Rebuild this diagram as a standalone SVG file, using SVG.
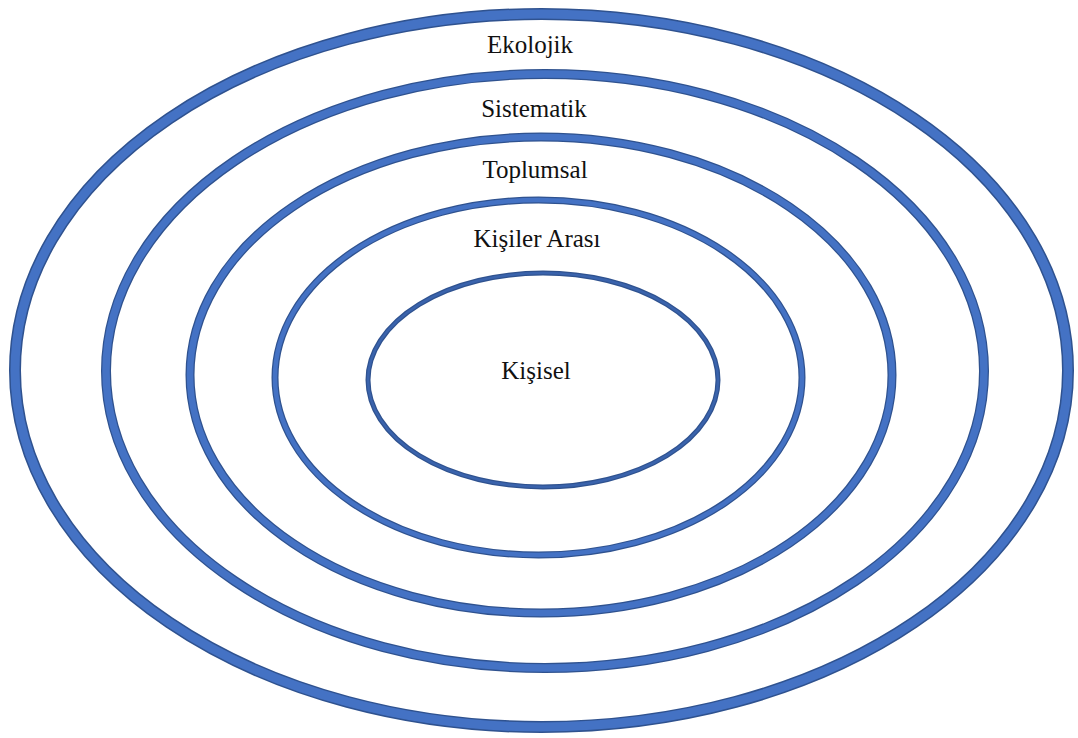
<svg xmlns="http://www.w3.org/2000/svg" width="1078" height="738" viewBox="0 0 1078 738">
<style>
.edge{fill:none;stroke:#2F528F}
.band{fill:none;stroke:#4472C4}
.lbl{font-family:"Liberation Serif","Times New Roman",serif;font-size:25px;fill:#111;text-anchor:middle}
</style>
<rect width="1078" height="738" fill="#fff"/>
<g id="ekolojik">
<ellipse class="edge" cx="541.5" cy="370.5" rx="526.5" ry="356.5" stroke-width="12"/>
<ellipse class="band" cx="541.5" cy="370.5" rx="526.5" ry="356.5" stroke-width="9"/>
<text class="lbl" x="530" y="53">Ekolojik</text>
</g>
<g id="sistematik">
<ellipse class="edge" cx="545" cy="371" rx="439" ry="297" stroke-width="10"/>
<ellipse class="band" cx="545" cy="371" rx="439" ry="297" stroke-width="7.5"/>
<text class="lbl" x="534" y="117">Sistematik</text>
</g>
<g id="toplumsal">
<ellipse class="edge" cx="541" cy="375" rx="351" ry="238" stroke-width="9"/>
<ellipse class="band" cx="541" cy="375" rx="351" ry="238" stroke-width="6.5"/>
<text class="lbl" x="535" y="178">Toplumsal</text>
</g>
<g id="kisiler-arasi">
<ellipse class="edge" cx="538.5" cy="377.5" rx="263.5" ry="177.5" stroke-width="7"/>
<ellipse class="band" cx="538.5" cy="377.5" rx="263.5" ry="177.5" stroke-width="4.5"/>
<text class="lbl" x="537" y="247">Kişiler Arası</text>
</g>
<g id="kisisel">
<ellipse cx="543" cy="380" rx="175" ry="107" fill="none" stroke="#2F528F" stroke-width="5"/>
<ellipse cx="543" cy="380" rx="175" ry="107" fill="none" stroke="#3A63AC" stroke-width="2.5"/>
<text class="lbl" x="536" y="379">Kişisel</text>
</g>
<g id="connectors"/>
</svg>
